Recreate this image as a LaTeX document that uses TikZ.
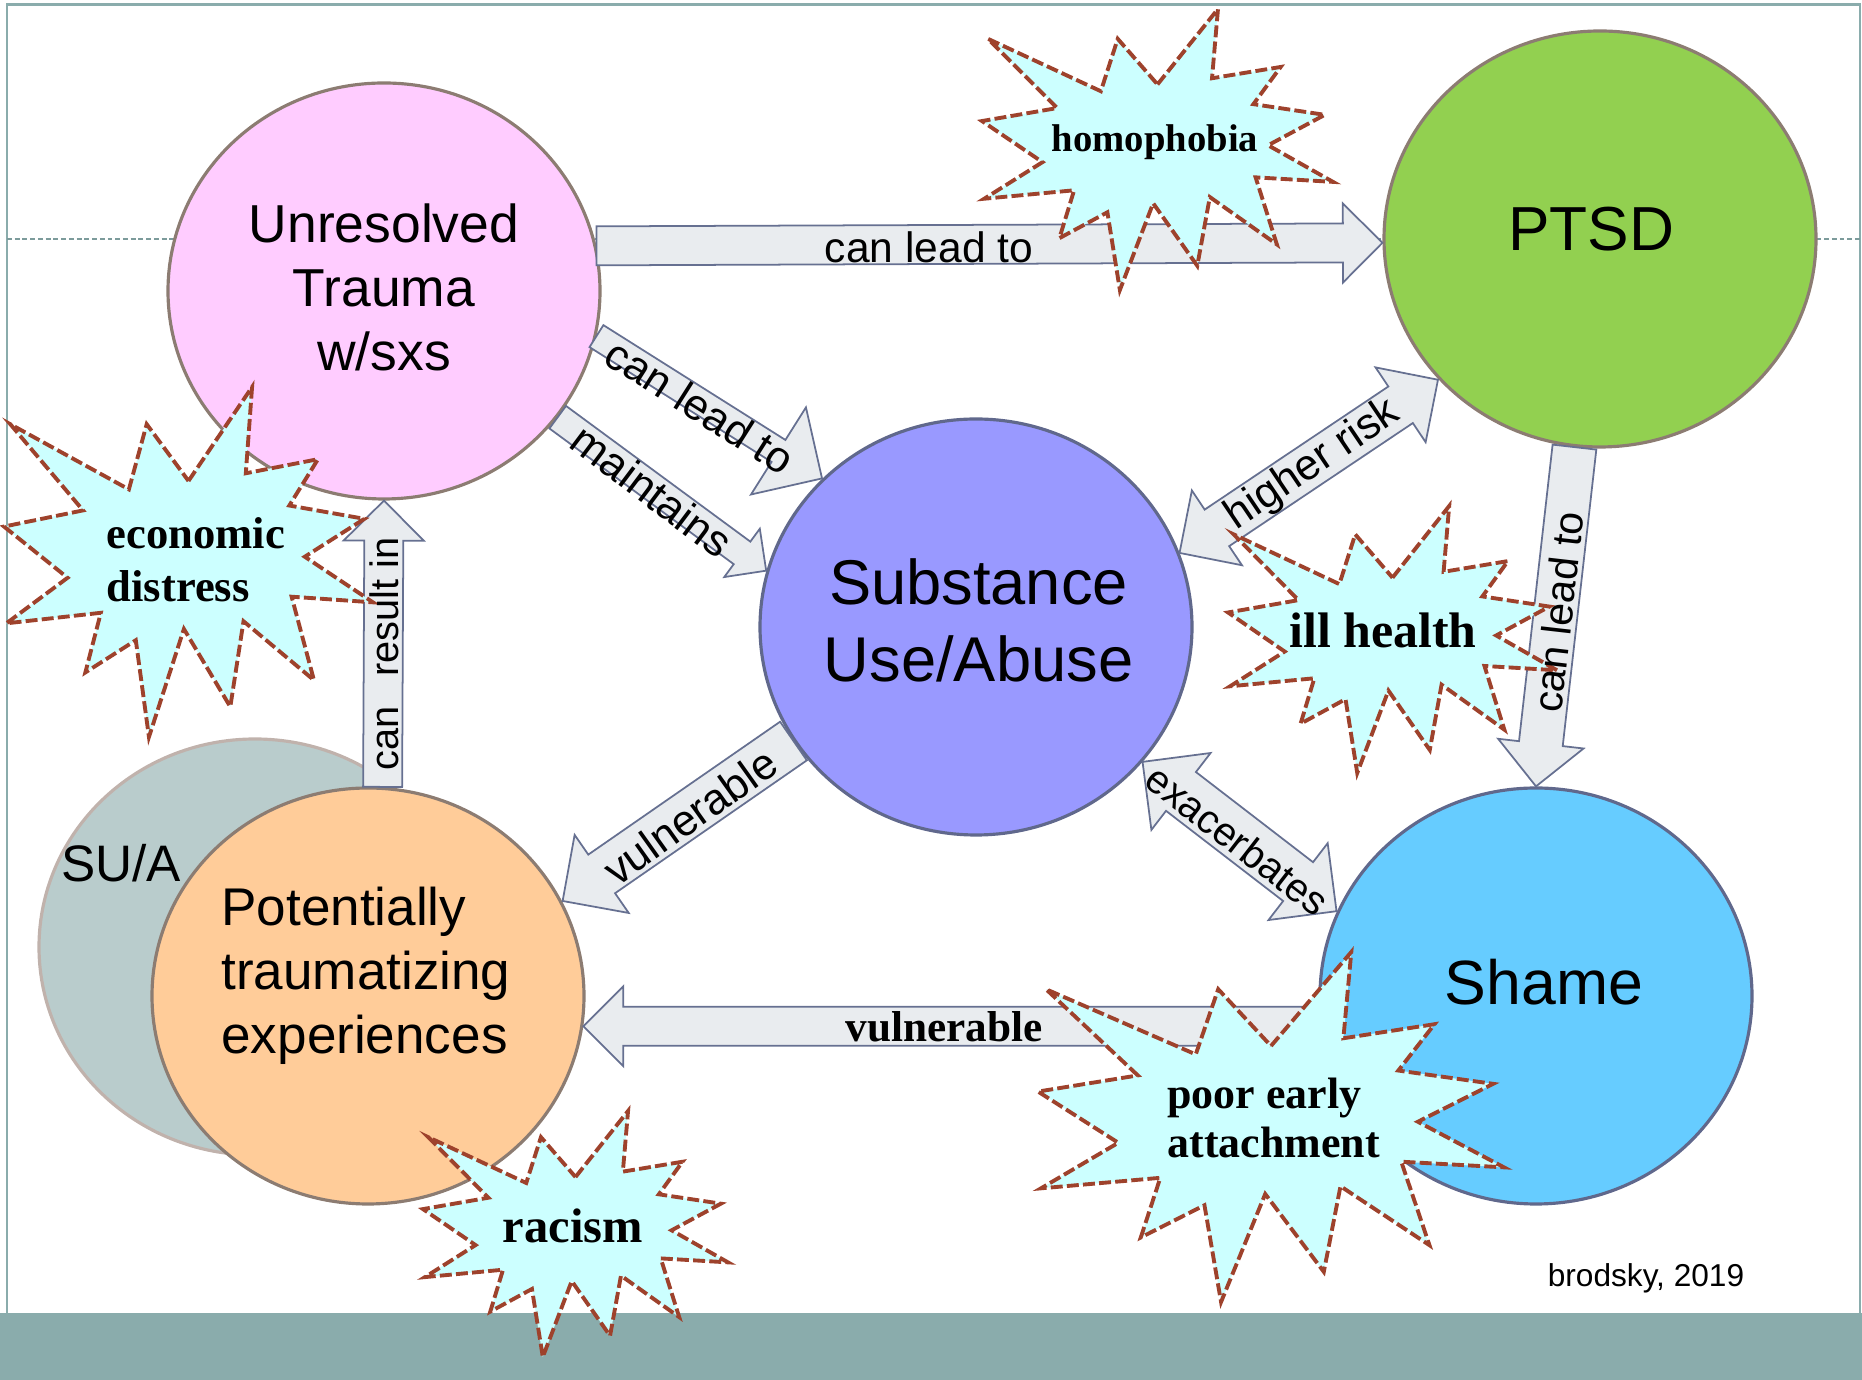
\documentclass[tikz,border=0pt]{standalone}
\usepackage{fontspec}
\setmainfont{Liberation Serif}
\setsansfont{Liberation Sans}
\usetikzlibrary{shapes.geometric,calc}

\definecolor{traumafill}{HTML}{FFCCFF}
\definecolor{ptsdfill}{HTML}{92D050}
\definecolor{substfill}{HTML}{9999FF}
\definecolor{shamefill}{HTML}{66CCFF}
\definecolor{ptefill}{HTML}{FFCC99}
\definecolor{suafill}{RGB}{185,204,204}
\definecolor{warmedge}{RGB}{140,124,114}
\definecolor{slateedge}{RGB}{96,104,140}
\definecolor{suaedge}{RGB}{192,178,172}
\definecolor{arrowfill}{RGB}{233,236,239}
\definecolor{arrowedge}{RGB}{102,112,145}
\definecolor{burstfill}{RGB}{204,255,255}
\definecolor{burstedge}{RGB}{158,66,44}
\definecolor{bandcol}{RGB}{138,172,172}

\tikzset{
  bubble/.style={ellipse, minimum width=4.32cm, minimum height=4.16cm, inner sep=0pt, line width=0.9pt},
  bubbletext/.style={align=center, inner sep=0pt},
  blockarrow/.style={fill=arrowfill, draw=arrowedge, line width=0.5pt, line join=miter},
  burst/.style={fill=burstfill, draw=burstedge, line width=1.1pt, dash pattern=on 3.4pt off 1.2pt},
  burstlabel/.style={inner sep=0pt, align=left},
  arrowlabel/.style={inner sep=0pt},
}

\newcommand{\arrowgeom}[2]{%
  \path let \p1=($(#2)-(#1)$) in \pgfextra{%
    \pgfmathsetmacro{\tmpang}{atan2(\y1,\x1)}%
    \pgfmathsetmacro{\tmplen}{veclen(\x1,\y1)}%
    \global\let\bkang\tmpang
    \global\let\bklen\tmplen};}

\newcommand{\blockarrow}[4]{%
  \arrowgeom{#1}{#2}%
  \draw[blockarrow, shift={(#1)}, rotate=\bkang]
    (0,-#3) -- ({\bklen pt-#4},-#3) -- ({\bklen pt-#4},-#4) -- (\bklen pt,0)
    -- ({\bklen pt-#4},#4) -- ({\bklen pt-#4},#3) -- (0,#3) -- cycle;}

\newcommand{\twowayarrow}[4]{%
  \arrowgeom{#1}{#2}%
  \draw[blockarrow, shift={(#1)}, rotate=\bkang]
    (0,0) -- (#4,#4) -- (#4,#3) -- ({\bklen pt-#4},#3) -- ({\bklen pt-#4},#4) -- (\bklen pt,0)
    -- ({\bklen pt-#4},-#4) -- ({\bklen pt-#4},-#3) -- (#4,-#3) -- (#4,-#4) -- cycle;}

\newcommand{\explosion}[3]{%
  \draw[burst, shift={#1}, xscale=#2, yscale=-#3]
    (0.5000,0.2685) -- (0.6723,0) -- (0.6553,0.2465) -- (0.8509,0.2063) -- (0.7732,0.3387)
    -- (0.9767,0.3767) -- (0.8151,0.4850) -- (1,0.6153) -- (0.7795,0.5992) -- (0.8400,0.8377)
    -- (0.6491,0.6693) -- (0.6133,0.9138) -- (0.4876,0.6914) -- (0.3928,1) -- (0.3572,0.7235)
    -- (0.2205,0.8156) -- (0.2624,0.6452) -- (0.0063,0.6753) -- (0.1723,0.5451) -- (0,0.3988)
    -- (0.2142,0.3526) -- (0.0171,0.1063) -- (0.3385,0.2926) -- (0.3867,0.1063) -- cycle;}

\begin{document}
\begin{tikzpicture}
  \useasboundingbox (0,0) rectangle (18.62,13.80);
  \fill[bandcol] (0,0) rectangle (18.62,0.67);
  \draw[bandcol, line width=0.6pt] (0.07,0) -- (0.07,13.755) -- (18.60,13.755) -- (18.60,0.67);
  \draw[bandcol!90!black, line width=0.35pt, dash pattern=on 1.4pt off 0.8pt] (0.07,11.41) -- (18.62,11.41);

  \node[bubble, fill=suafill, draw=suaedge] (sua) at (2.55,4.33) {};
  \node[bubble, fill=traumafill, draw=warmedge] (trauma) at (3.84,10.89) {};
  \node[bubble, fill=ptsdfill, draw=warmedge] (ptsd) at (16.00,11.41) {};
  \node[bubble, fill=substfill, draw=slateedge] (subst) at (9.76,7.53) {};
  \node[bubble, fill=shamefill, draw=slateedge] (shame) at (15.36,3.84) {};
  \node[bubble, fill=ptefill, draw=warmedge] (pte) at (3.68,3.84) {};

  \node[bubbletext, font=\sffamily\fontsize{15.2}{18.2}\selectfont] (traumatext) at (3.84,10.93) {Unresolved\\Trauma\\w/sxs};
  \node[bubbletext, font=\sffamily\fontsize{17.7}{21}\selectfont] (ptsdtext) at (15.91,11.51) {PTSD};
  \node[bubbletext, font=\sffamily\fontsize{18}{21.9}\selectfont] (substtext) at (9.785,7.60) {Substance\\Use/Abuse};
  \node[bubbletext, font=\sffamily\fontsize{17.8}{21}\selectfont] (shametext) at (15.44,3.98) {Shame};
  \node[bubbletext, align=left, font=\sffamily\fontsize{15.1}{18.2}\selectfont] (ptetext) at (3.66,4.04) {Potentially\\traumatizing\\experiences};
  \node[bubbletext, font=\sffamily\fontsize{14.6}{17}\selectfont] (suatext) at (1.21,5.17) {SU/A};

  \blockarrow{trauma.12}{ptsd.181}{0.195cm}{0.395cm}
  \blockarrow{trauma.-12}{subst.136}{0.13cm}{0.515cm}
  \blockarrow{trauma.-36}{subst.165}{0.14cm}{0.30cm}
  \twowayarrow{subst.20}{ptsd.221}{0.22cm}{0.45cm}
  \blockarrow{ptsd.263}{shame.90}{0.22cm}{0.43cm}
  \blockarrow{pte.86}{trauma.south}{0.195cm}{0.40cm}
  \blockarrow{subst.212}{pte.26}{0.235cm}{0.475cm}
  \twowayarrow{subst.-39}{shame.157}{0.245cm}{0.485cm}
  \blockarrow{shame.188}{pte.-8}{0.196cm}{0.40cm}

  \explosion{(9.82,13.71)}{3.51}{2.81}
  \explosion{(0.04,9.93)}{3.69}{3.50}
  \explosion{(12.28,8.74)}{3.29}{2.67}
  \explosion{(4.23,2.69)}{3.05}{2.46}
  \explosion{(10.38,4.28)}{4.66}{3.50}

  \node[burstlabel, font=\bfseries\fontsize{11}{13}\selectfont] (homophobia) at (11.55,12.38) {homophobia};
  \node[burstlabel, anchor=west, font=\bfseries\fontsize{12.7}{15.1}\selectfont] (econ) at (1.06,8.20) {economic\\distress};
  \node[burstlabel, font=\bfseries\fontsize{14.2}{16}\selectfont] (illhealth) at (13.83,7.50) {ill health};
  \node[burstlabel, font=\bfseries\fontsize{13.8}{16}\selectfont] (racism) at (5.73,1.54) {racism};
  \node[burstlabel, anchor=west, font=\bfseries\fontsize{12.5}{14.2}\selectfont] (attach) at (11.667,2.62) {poor early\\attachment};

  \node[arrowlabel, font=\sffamily\fontsize{12.1}{14}\selectfont] (leadA) at (9.29,11.33) {can lead to};
  \node[arrowlabel, rotate=-32.4, font=\sffamily\fontsize{12.4}{14}\selectfont] (leadB) at (7.00,9.74) {can lead to};
  \node[arrowlabel, rotate=-37, font=\sffamily\fontsize{12.5}{14}\selectfont] (maint) at (6.52,8.89) {maintains};
  \node[arrowlabel, rotate=34, font=\sffamily\fontsize{12.3}{14}\selectfont] (risk) at (13.13,9.15) {higher risk};
  \node[arrowlabel, rotate=83.5, font=\sffamily\fontsize{11.7}{14}\selectfont] (leadC) at (15.58,7.68) {can lead to};
  \node[arrowlabel, rotate=90, font=\sffamily\fontsize{11.3}{14}\selectfont] (result) at (3.84,7.26) {can\hspace{8.5pt}result in};
  \node[arrowlabel, rotate=35.5, font=\sffamily\fontsize{12.4}{14}\selectfont] (vulnA) at (6.90,5.64) {vulnerable};
  \node[arrowlabel, rotate=-37.8, font=\sffamily\fontsize{11.4}{14}\selectfont] (exac) at (12.375,5.40) {exacerbates};
  \node[arrowlabel, font=\bfseries\fontsize{12.3}{14}\selectfont] (vulnB) at (9.44,3.53) {vulnerable};
  \node[arrowlabel, font=\sffamily\fontsize{9}{11}\selectfont] (credit) at (16.46,1.02) {brodsky, 2019};
\end{tikzpicture}
\end{document}
